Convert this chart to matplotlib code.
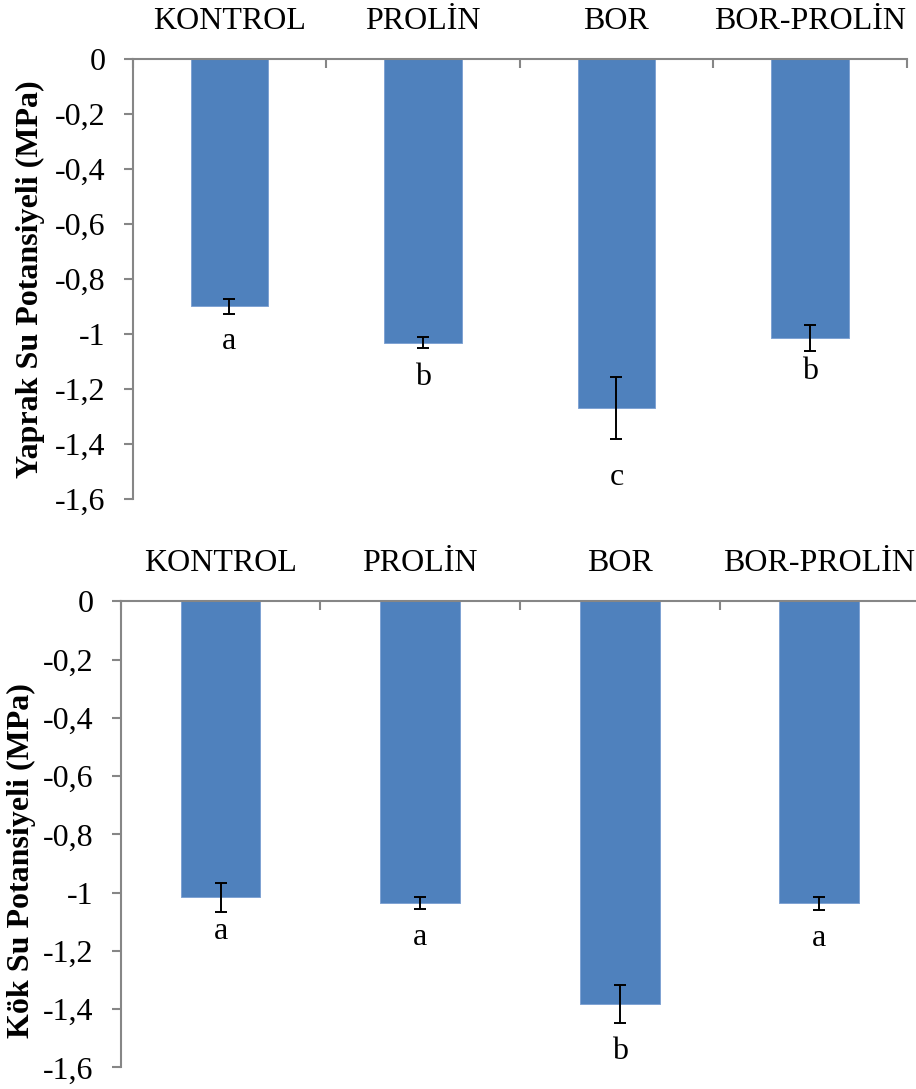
import matplotlib
matplotlib.use("Agg")
import matplotlib.pyplot as plt
import numpy as np

plt.rcParams['font.family'] = ['Liberation Serif', 'DejaVu Serif']

# Treatments and measured water potentials (MPa)
categories = ["KONTROL", "PROLİN", "BOR", "BOR-PROLİN"]

leaf_values = [-0.898, -1.031, -1.268, -1.014]
leaf_errors = [0.027, 0.020, 0.113, 0.049]
leaf_letters = ["a", "b", "c", "b"]
leaf_letter_y = [-1.054, -1.185, -1.549, -1.165]

root_values = [-1.016, -1.036, -1.384, -1.037]
root_errors = [0.050, 0.022, 0.065, 0.023]
root_letters = ["a", "a", "b", "a"]
root_letter_y = [-1.160, -1.180, -1.573, -1.184]

y_ticks = [0, -0.2, -0.4, -0.6, -0.8, -1.0, -1.2, -1.4, -1.6]
y_tick_labels = ["0", "-0,2", "-0,4", "-0,6", "-0,8", "-1", "-1,2", "-1,4", "-1,6"]

BAR_COLOR = "#4F81BD"
AXIS_GRAY = "#868686"
FS = 23

fig = plt.figure(figsize=(9.16, 10.89), dpi=100)


def draw_panel(ax, values, errors, letters, letter_y):
    x = np.arange(len(categories))
    ax.bar(x, values, width=0.4, color=BAR_COLOR, edgecolor="#7FA3D3",
           linewidth=0.7, zorder=2)
    ax.errorbar(x, values, yerr=errors, fmt="none", ecolor="black",
                elinewidth=1.4, capsize=4.4, capthick=1.4, zorder=3)
    for xi, lab, ly in zip(x, letters, letter_y):
        ax.text(xi, ly, lab, ha="center", va="baseline", fontsize=FS)

    ax.set_xlim(-0.5, len(categories) - 0.5)
    ax.set_ylim(-1.6, 0)

    for side in ("right", "bottom"):
        ax.spines[side].set_visible(False)
    for side in ("left", "top"):
        ax.spines[side].set_color(AXIS_GRAY)
        ax.spines[side].set_linewidth(1.5)

    ax.set_yticks(y_ticks)
    ax.set_yticklabels(y_tick_labels, fontsize=FS)
    ax.tick_params(axis="y", direction="out", length=6.5, width=1.5,
                   color=AXIS_GRAY, pad=13)

    ax.xaxis.tick_top()
    ax.set_xticks(np.arange(-0.5, len(categories)), minor=False)
    ax.set_xticklabels([])
    ax.set_xticks(x, minor=True)
    ax.set_xticklabels(categories, minor=True, fontsize=FS)
    ax.tick_params(axis="x", which="major", direction="in", length=6.5,
                   width=1.5, color=AXIS_GRAY, top=True, bottom=False)
    ax.tick_params(axis="x", which="minor", length=0, pad=16.5,
                   top=True, bottom=False, labeltop=True, labelbottom=False)


ax_top = fig.add_axes([0.1449, 0.5418, 0.8449, 0.4037])
draw_panel(ax_top, leaf_values, leaf_errors, leaf_letters, leaf_letter_y)

ax_bot = fig.add_axes([0.1318, 0.0199, 0.8716, 0.4279])
draw_panel(ax_bot, root_values, root_errors, root_letters, root_letter_y)

fig.text(0.0328, 0.7438, "Yaprak Su Potansiyeli (MPa)", rotation=90,
         ha="center", va="center", fontsize=FS, fontweight="bold")
fig.text(0.0235, 0.2094, "Kök Su Potansiyeli (MPa)", rotation=90,
         ha="center", va="center", fontsize=FS, fontweight="bold")

fig.savefig("out.png", dpi=100, facecolor="white")
